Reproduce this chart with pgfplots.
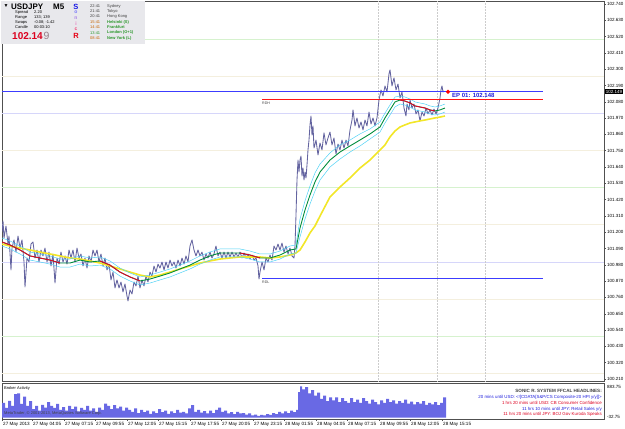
\documentclass[border=0pt]{standalone}
\usepackage{fontspec}
\setmainfont{Liberation Sans}
\usepackage{pgfplots}
\pgfplotsset{compat=1.18}
\usepackage{pgfplotstable}

\definecolor{pricecol}{RGB}{100,100,160}
\definecolor{magreen}{RGB}{0,140,60}
\definecolor{macyan}{RGB}{80,210,245}
\definecolor{mayel}{RGB}{242,230,40}
\definecolor{mared}{RGB}{230,0,40}
\definecolor{gridgreen}{RGB}{214,242,206}
\definecolor{gridbeige}{RGB}{244,239,222}
\definecolor{gridlav}{RGB}{214,214,250}
\definecolor{epblue}{RGB}{60,60,255}
\definecolor{rdhred}{RGB}{255,20,20}
\definecolor{histcol}{RGB}{105,105,228}
\definecolor{boxgray}{RGB}{232,232,236}
\definecolor{framecol}{RGB}{80,80,80}
\definecolor{txtblue}{RGB}{30,30,220}
\definecolor{txtred}{RGB}{220,0,30}
\definecolor{nmgreen}{RGB}{40,150,40}
\definecolor{tmorange}{RGB}{200,100,0}
\newcommand\fs[1]{\fontsize{#1}{#1}\selectfont}

\pgfplotstableread{
x g up lo yel
2 101.134 101.161 101.107 101.120
10 101.114 101.141 101.087 101.107
20 101.080 101.107 101.053 101.093
30 101.040 101.066 101.012 101.080
40 101.026 101.053 100.999 101.066
50 101.012 101.040 100.985 101.053
60 100.992 101.019 100.965 101.040
70 100.992 101.019 100.965 101.026
80 101.012 101.040 100.985 101.019
90 100.999 101.026 100.972 101.006
100 101.006 101.033 100.978 100.992
110 100.978 101.006 100.952 100.972
120 100.931 100.958 100.904 100.952
130 100.898 100.925 100.871 100.931
140 100.871 100.898 100.844 100.911
150 100.884 100.911 100.857 100.898
160 100.904 100.931 100.878 100.911
170 100.925 100.952 100.898 100.931
180 100.952 100.978 100.925 100.952
190 100.978 101.006 100.952 100.972
200 101.012 101.040 100.985 100.992
210 101.040 101.066 101.012 101.006
220 101.060 101.087 101.033 101.019
230 101.060 101.087 101.033 101.026
240 101.060 101.087 101.033 101.033
250 101.046 101.073 101.019 101.033
260 101.026 101.053 100.999 101.033
270 101.026 101.053 100.999 101.026
280 101.046 101.073 101.019 101.033
290 101.080 101.107 101.053 101.046
296 101.087 101.114 101.060 101.060
300 101.228 101.289 101.168 101.080
305 101.350 101.411 101.289 101.134
310 101.451 101.512 101.390 101.195
315 101.539 101.600 101.478 101.242
320 101.606 101.660 101.552 101.309
330 101.687 101.735 101.640 101.438
340 101.741 101.789 101.694 101.505
350 101.782 101.822 101.741 101.566
360 101.822 101.863 101.782 101.633
370 101.863 101.897 101.829 101.687
380 101.910 101.944 101.876 101.755
385 101.971 102.004 101.937 101.789
390 102.025 102.058 101.991 101.843
395 102.079 102.112 102.045 101.883
400 102.092 102.119 102.065 101.910
405 102.085 102.112 102.058 101.924
410 102.072 102.099 102.045 101.937
415 102.052 102.079 102.025 101.944
420 102.045 102.072 102.018 101.951
425 102.038 102.065 102.011 101.957
430 102.025 102.052 101.998 101.964
435 102.018 102.045 101.991 101.971
440 102.025 102.052 101.998 101.977
445 102.038 102.065 102.011 101.984
}\ma

\begin{document}
\begin{tikzpicture}
\useasboundingbox (0,0) rectangle (625pt,-429pt);
\begin{axis}[
  at={(2pt,-1pt)}, anchor=north west, scale only axis,
  width=602pt, height=380pt,
  xmin=2, xmax=604, ymin=100.196, ymax=102.760,
  axis line style={framecol, line width=0.6pt},
  xtick=\empty,
  ytick={100.21,100.32,100.43,100.54,100.65,100.76,100.87,100.98,101.09,101.20,101.31,101.42,101.53,101.64,101.75,101.86,101.97,102.08,102.19,102.30,102.41,102.52,102.63,102.74},
  ytick pos=right, yticklabel pos=right, tick align=outside,
  major tick length=2pt, tick style={framecol, line width=0.4pt},
  y tick label style={/pgf/number format/.cd, fixed, fixed zerofill, precision=3, assume math mode=true, /tikz/.cd, font=\fs{4.5}, inner sep=1pt},
  scaled y ticks=false,
]
% round-number levels
\addplot[gridgreen, line width=0.6pt] coordinates {(2,102.50) (604,102.50)};
\addplot[gridbeige, line width=0.6pt] coordinates {(2,102.25) (604,102.25)};
\addplot[gridlav, line width=0.6pt] coordinates {(2,102.00) (604,102.00)};
\addplot[gridbeige, line width=0.6pt] coordinates {(2,101.75) (604,101.75)};
\addplot[gridgreen, line width=0.6pt] coordinates {(2,101.50) (604,101.50)};
\addplot[gridbeige, line width=0.6pt] coordinates {(2,101.25) (604,101.25)};
\addplot[gridlav, line width=0.6pt] coordinates {(2,101.00) (604,101.00)};
\addplot[gridbeige, line width=0.6pt] coordinates {(2,100.75) (604,100.75)};
\addplot[gridgreen, line width=0.6pt] coordinates {(2,100.50) (604,100.50)};
\addplot[gridbeige, line width=0.6pt] coordinates {(2,100.25) (604,100.25)};
% session separators
\addplot[gray!40, densely dotted, line width=0.5pt] coordinates {(378,100.196) (378,102.76)};
\addplot[gray!40, densely dotted, line width=0.5pt] coordinates {(437,100.196) (437,102.76)};
\addplot[gray!40, densely dotted, line width=0.5pt] coordinates {(485,100.196) (485,102.76)};
% price
\addplot[pricecol, line width=0.85pt, line join=round] coordinates {
(2,101.201)(3,101.276)(4,101.161)(6,101.242)(8,101.120)(9,101.174)(11,100.945)(12,101.093)(14,101.148)(16,101.066)(18,101.174)(20,101.093)(22,101.148)(24,100.999)(25,100.830)(27,101.026)(29,100.999)(31,101.120)(33,101.134)(35,101.026)(37,101.080)(39,100.999)(41,101.080)(43,101.040)(45,101.093)(47,100.999)(49,101.066)(51,100.972)(53,101.053)(55,100.857)(57,101.026)(59,100.985)(61,101.066)(63,100.999)(65,101.040)(67,100.985)(69,101.080)(71,101.026)(73,101.080)(75,100.999)(77,101.093)(79,101.026)(81,101.053)(83,100.972)(85,101.026)(87,100.958)(89,101.040)(91,100.999)(93,101.080)(95,101.040)(97,101.080)(99,100.999)(101,101.053)(103,100.972)(105,101.026)(107,100.945)(109,100.985)(111,100.878)(113,100.931)(115,100.824)(117,100.878)(119,100.824)(121,100.864)(123,100.797)(125,100.851)(127,100.770)(128,100.736)(130,100.810)(132,100.783)(134,100.864)(136,100.837)(138,100.904)(140,100.824)(142,100.878)(144,100.837)(146,100.904)(148,100.864)(150,100.931)(152,100.904)(154,100.972)(156,100.931)(158,100.985)(160,100.958)
(162,100.999)(164,100.945)(166,100.999)(168,100.958)(170,101.012)(172,100.972)(174,100.999)(176,100.958)(178,101.012)(180,100.972)(182,101.026)(184,100.985)(186,101.040)(188,100.999)(190,101.107)(192,101.148)(194,101.080)(196,101.040)(198,101.080)(200,101.040)(202,101.066)(204,101.012)(206,101.053)(208,101.026)(210,101.066)(212,101.026)(214,101.053)(216,101.107)(218,101.040)(220,101.066)(222,101.026)(224,101.066)(226,101.026)(228,101.066)(230,101.033)(232,101.066)(234,101.033)(236,101.060)(238,101.033)(240,101.066)(242,101.026)(244,101.060)(246,101.026)(248,101.053)(250,101.019)(252,101.046)(254,101.012)(256,101.026)(258,100.972)(259,100.884)(260,100.931)(262,100.999)(264,100.945)(266,101.026)(268,100.999)(270,101.046)(272,101.012)(274,101.107)(276,101.080)(278,101.120)(280,101.080)(282,101.127)(284,101.066)(286,101.107)(288,101.053)(290,101.093)(292,101.040)(294,101.026)(295,101.107)
(296,101.316)(297,101.552)(298,101.687)(299,101.606)(300,101.687)(301,101.714)(302,101.579)(303,101.633)(304,101.552)(305,101.606)(306,101.566)(307,101.654)(308,101.755)(309,101.822)(310,101.924)(311,101.984)(312,101.856)(313,101.917)(314,101.768)(316,101.822)(318,101.721)(320,101.802)(322,101.755)(324,101.870)(326,101.789)(328,101.836)(330,101.876)(332,101.789)(334,101.836)(336,101.728)(338,101.795)(340,101.755)(342,101.822)(344,101.768)(346,101.822)(348,101.782)(350,101.890)(352,101.957)(353,102.025)(355,101.917)(357,101.971)(359,101.903)(361,101.944)(363,101.890)(365,101.957)(367,101.917)(369,102.011)(371,101.930)(373,101.971)(375,101.917)(377,101.971)(379,102.092)(381,102.160)(383,102.119)(385,102.187)(387,102.146)(389,102.268)(390,102.295)(392,102.187)(394,102.241)(396,102.160)(398,102.200)(400,102.106)(402,102.146)(404,102.038)(406,101.984)(407,102.065)(409,102.025)(410,102.092)(412,102.038)(414,102.065)(416,101.998)(418,102.025)(420,101.951)(422,102.011)(424,101.984)(426,102.038)(428,101.998)(430,102.025)(432,101.991)(434,102.031)(436,101.998)(438,102.038)(440,102.106)(441,102.160)(442,102.187)(443,102.146)(444,102.153)
};
% moving averages
\addplot[mayel, line width=1.6pt] table[x=x,y=yel] {\ma};
\addplot[macyan, line width=0.5pt] table[x=x,y=up] {\ma};
\addplot[macyan, line width=0.5pt] table[x=x,y=lo] {\ma};
\addplot[magreen, line width=0.9pt] table[x=x,y=g] {\ma};
\addplot[mared, line width=0.9pt] coordinates {(2,101.134)(10,101.114)(20,101.080)(30,101.040)(40,101.026)(50,101.012)(60,100.992)};
\addplot[mared, line width=0.9pt] coordinates {(100,101.006)(110,100.978)(120,100.931)(130,100.898)(140,100.871)};
\addplot[mared, line width=0.9pt] coordinates {(240,101.060)(250,101.046)(260,101.026)};
\addplot[mared, line width=0.9pt] coordinates {(400,102.092)(405,102.085)(410,102.072)(415,102.052)(420,102.045)(425,102.038)(430,102.025)(435,102.018)};
% levels
\addplot[draw=epblue, line width=1.25pt] coordinates {(2,102.148) (543,102.148)};
\addplot[draw=rdhred, line width=1.2pt] coordinates {(262,102.096) (543,102.096)};
\addplot[draw=epblue, line width=1pt] coordinates {(262,100.891) (543,100.891)};
\addplot[only marks, mark=*, mark size=1.8pt, mark options={fill=red, draw=red}] coordinates {(448,102.148)};
\end{axis}

\begin{axis}[
  at={(2pt,-383pt)}, anchor=north west, scale only axis,
  width=602pt, height=36pt,
  xmin=2, xmax=604, ymin=-32.75, ymax=883.75,
  axis line style={framecol, line width=0.6pt},
  ytick=\empty,
  xtick={2,32,64,95,127,158,190,221,253,284,316,347,379,410,442},
  xticklabels={27 May 2013,27 May 04:05,27 May 07:15,27 May 09:55,27 May 12:05,27 May 15:15,27 May 17:55,27 May 20:05,27 May 23:15,28 May 01:55,28 May 04:05,28 May 07:15,28 May 09:55,28 May 12:05,28 May 15:15},
  xtick pos=bottom, tick align=outside, major tick length=2pt,
  tick style={framecol, line width=0.4pt},
  x tick label style={anchor=north west, font=\fs{4.6}, inner sep=0.5pt, yshift=-0.5pt, xshift=0.5pt},
]
\addplot[fill=histcol, draw=none, const plot] coordinates {
(2,380)(5,250)(8,430)(11,300)(14,600)(17,620)(20,350)(23,540)(26,300)(29,420)
(32,220)(35,300)(38,180)(41,330)(44,260)(47,400)(50,300)(53,250)(56,350)(59,200)
(62,270)(65,180)(68,300)(71,220)(74,280)(77,160)(80,250)(83,200)(86,300)(89,180)
(92,240)(95,150)(98,260)(101,200)(104,360)(107,300)(110,220)(113,320)(116,240)(119,280)
(122,180)(125,260)(128,200)(131,150)(134,240)(137,120)(140,200)(143,140)(146,180)(149,100)
(152,160)(155,120)(158,220)(161,140)(164,180)(167,100)(170,160)(173,120)(176,200)(179,130)
(182,150)(185,110)(188,240)(191,320)(194,150)(197,200)(200,130)(203,170)(206,110)(209,180)
(212,120)(215,200)(218,260)(221,150)(224,180)(227,110)(230,140)(233,90)(236,150)(239,110)
(242,120)(245,80)(248,110)(251,60)(254,80)(257,50)(260,70)(263,60)(266,90)(269,70)
(272,120)(275,90)(278,150)(281,110)(284,160)(287,120)(290,180)(293,140)(296,200)(298,650)
(300,800)(302,720)(305,780)(308,620)(311,700)(314,560)(317,640)(320,480)(323,560)(326,420)
(329,520)(332,440)(335,520)(338,400)(341,500)(344,420)(347,380)(350,500)(353,400)(356,460)
(359,380)(362,500)(365,420)(368,360)(371,460)(374,400)(377,340)(380,440)(383,380)(386,480)
(389,400)(392,440)(395,360)(398,420)(401,380)(404,460)(407,360)(410,410)(413,340)(416,400)
(419,360)(422,420)(425,330)(428,380)(431,340)(434,400)(437,320)(440,380)(443,520)(446,0)
} \closedcycle;
\end{axis}

\begin{scope}[x=1pt, y=-1pt, every node/.style={inner sep=0pt, anchor=west}]
% info box
\fill[boxgray] (1,1) rectangle (145,44);
\node at (3.5,6.5) {\fs{5}▼};
\node at (11,6.5) {\fs{8}\bfseries USDJPY};
\node at (53,6.5) {\fs{8}\bfseries M5};
\node at (15,12.5) {\fs{4}Spread};
\node at (34,12.5) {\fs{4}2.20};
\node at (15,17.5) {\fs{4}Range};
\node at (34,17.5) {\fs{4}133; 139};
\node at (15,22.5) {\fs{4}Swaps};
\node at (34,22.5) {\fs{4}-0.08; -1.42};
\node at (15,27.5) {\fs{4}Candle};
\node at (34,27.5) {\fs{4}00:03:10};
\node at (12,36) {\fs{10}\bfseries\color{txtred}102.14};
\node at (43.5,36.3) {\fs{10.5}\color[RGB]{150,125,135}9};
\node[anchor=center] at (76,6.5) {\fs{7.5}\bfseries\color[RGB]{20,20,230}S};
\node[anchor=center] at (76,12.5) {\fs{5}\bfseries\color[RGB]{120,120,250}o};
\node[anchor=center] at (76,18) {\fs{5}\bfseries\color[RGB]{170,130,230}n};
\node[anchor=center] at (76,23.5) {\fs{5}\bfseries\color[RGB]{230,120,190}i};
\node[anchor=center] at (76,29) {\fs{5}\bfseries\color[RGB]{240,70,120}c};
\node[anchor=center] at (76,36) {\fs{7.5}\bfseries\color[RGB]{230,0,20}R};
\node at (90,6) {\fs{4}\color{darkgray}22:41};
\node at (107,6) {\fs{4}\color{darkgray}Sydney};
\node at (90,11.3) {\fs{4}\color{darkgray}21:41};
\node at (107,11.3) {\fs{4}\color{darkgray}Tokyo};
\node at (90,16.6) {\fs{4}\color{darkgray}20:41};
\node at (107,16.6) {\fs{4}\color{darkgray}Hong Kong};
\node at (90,22) {\fs{4}\color{tmorange}15:41};
\node at (107,22) {\fs{4}\bfseries\color{nmgreen}Helsinki (S)};
\node at (90,27.3) {\fs{4}\color{tmorange}14:41};
\node at (107,27.3) {\fs{4}\bfseries\color{nmgreen}Frankfurt};
\node at (90,32.7) {\fs{4}\color{nmgreen}13:41};
\node at (107,32.7) {\fs{4}\bfseries\color{nmgreen}London (O+1)};
\node at (90,38) {\fs{4}\color{tmorange}08:41};
\node at (107,38) {\fs{4}\bfseries\color{nmgreen}New York (L)};
% chart annotations
\node at (452,95.5) {\fs{6}\bfseries\color{txtblue}EP 01: 102.148};
\node at (262,103) {\fs{3.6}\color{darkgray}RDH};
\node at (262,282) {\fs{3.6}\color{darkgray}RDL};
\node[fill=black, inner sep=0.7pt] at (605,91.7) {\fs{4.5}\color{white}102.149};
% indicator panel texts
\node at (607,387) {\fs{4.5}883.75};
\node at (607,417) {\fs{4.5}-32.75};
\node at (4,388.5) {\fs{4}Broker Activity};
\node at (4,413) {\fs{4}\color{darkgray}MetaTrader, \textcopyright\ 2001-2013, MetaQuotes Software Corp.};
\node[anchor=east] at (602,391) {\fs{4.6}\bfseries\color{darkgray}SONIC R. SYSTEM FFCAL HEADLINES:};
\node[anchor=east] at (602,397) {\fs{4.4}\color{txtblue}20 mins until USD: <![CDATA[S\&P/CS Composite-20 HPI y/y]]>};
\node[anchor=east] at (602,403) {\fs{4.4}\color{txtred}1 hrs 20 mins until USD: CB Consumer Confidence};
\node[anchor=east] at (602,409) {\fs{4.4}\color{txtblue}11 hrs 10 mins until JPY: Retail Sales y/y};
\node[anchor=east] at (602,414.5) {\fs{4.4}\color{txtred}11 hrs 20 mins until JPY: BOJ Gov Kuroda Speaks};
\end{scope}
\end{tikzpicture}
\end{document}
